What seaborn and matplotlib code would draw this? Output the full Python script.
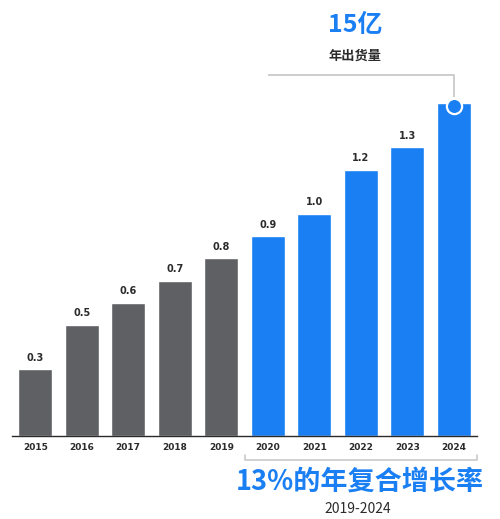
import numpy as np
import pandas as pd
import matplotlib
matplotlib.use("Agg")
import matplotlib.pyplot as plt
import seaborn as sns

# shipments, billions of units
years = ["2015", "2016", "2017", "2018", "2019", "2020", "2021", "2022", "2023", "2024"]
values = [0.3, 0.5, 0.6, 0.7, 0.8, 0.9, 1.0, 1.2, 1.3, 1.5]
value_labels = ["0.3", "0.5", "0.6", "0.7", "0.8", "0.9", "1.0", "1.2", "1.3", ""]
is_forecast = [False] * 5 + [True] * 5

GRAY = "#5f6064"
BLUE = "#1a7ff3"
DARK = "#2b2b2b"
LIGHT = "#c9c9c9"

sns.set_theme(style="white")
plt.rcParams["font.family"] = ["DejaVu Sans", "Noto Sans CJK SC"]
CJK = ["Noto Sans CJK SC", "DejaVu Sans"]

df = pd.DataFrame({"year": years, "value": values})
palette = {y: (BLUE if f else GRAY) for y, f in zip(years, is_forecast)}

fig = plt.figure(figsize=(5.0, 5.19), dpi=100)
ax = fig.add_axes([12 / 500, 83 / 519, 465 / 500, 426 / 519])

sns.barplot(data=df, x="year", y="value", hue="year", palette=palette,
            legend=False, width=0.73, saturation=1, ax=ax)

ax.set_xlim(-0.5, 9.5)
ax.set_ylim(0, 426 / 222)
ax.set_xlabel("")
ax.set_ylabel("")
ax.set_yticks([])
for s in ["top", "right", "left"]:
    ax.spines[s].set_visible(False)
ax.spines["bottom"].set_color(DARK)
ax.spines["bottom"].set_linewidth(1.0)
ax.tick_params(axis="x", length=0, pad=5, labelsize=6.5, labelcolor=DARK)
for t in ax.get_xticklabels():
    t.set_fontweight("bold")

# value labels above bars
for i, (v, lab) in enumerate(zip(values, value_labels)):
    if lab:
        ax.text(i, v + 0.03, lab, ha="center", va="bottom", fontsize=7,
                fontweight="bold", color=DARK)

# callout for the last bar
ax.plot([5, 9, 9], [1.626, 1.626, 1.525], color=LIGHT, lw=1.3,
        solid_capstyle="butt", clip_on=False, zorder=3)
ax.scatter([9], [1.485], s=120, color=BLUE, edgecolor="white",
           linewidth=1.6, zorder=4, clip_on=False)
ax.text(6.88, 1.85, "15亿", ha="center", va="center", fontsize=18,
        fontweight="bold", color=BLUE, family=CJK)
ax.text(6.88, 1.715, "年出货量", ha="center", va="center", fontsize=9.5,
        fontweight="bold", color=DARK, family=CJK)

# bracket below the blue bars
trans = matplotlib.transforms.blended_transform_factory(ax.transData, fig.transFigure)
yb = 1 - 460 / 519
tick = 5 / 519
ax.plot([4.5, 4.5, 9.5, 9.5], [yb + tick, yb, yb, yb + tick], color=LIGHT,
        lw=1.2, transform=trans, clip_on=False)
fig.text(360 / 500, 1 - 482 / 519, "13%的年复合增长率", ha="center", va="center",
         fontsize=19.5, fontweight="bold", color=BLUE, family=CJK)
fig.text(358 / 500, 1 - 509 / 519, "2019-2024", ha="center", va="center",
         fontsize=10, color=DARK, family=CJK)

fig.savefig("out.png", dpi=100)
